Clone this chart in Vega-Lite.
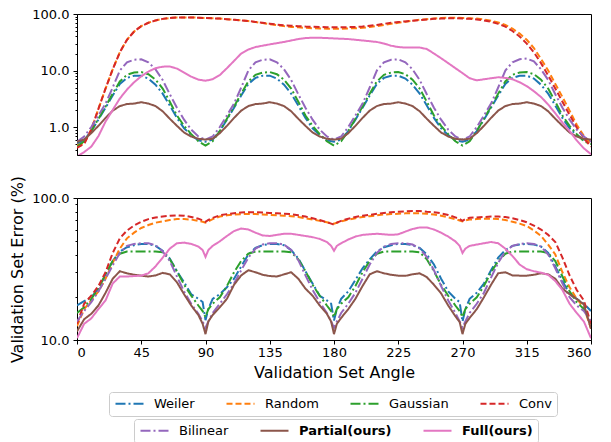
{
"$schema": "https://vega.github.io/schema/vega-lite/v6.json",
"padding": {"left": 9, "top": 7, "right": 5, "bottom": 0},
"config": {
 "font": "DejaVu Sans",
 "view": {"stroke": "#000", "strokeWidth": 1},
 "axis": {"labelFont": "DejaVu Sans", "titleFont": "DejaVu Sans", "labelFontSize": 13, "titleFontSize": 16, "titleFontWeight": "normal", "labelColor": "#000", "titleColor": "#000", "tickColor": "#000", "domainColor": "#000", "grid": false, "tickSize": 4},
 "legend": {"labelFont": "DejaVu Sans", "labelFontSize": 13, "labelColor": "#000", "symbolStrokeWidth": 2, "columnPadding": 27, "padding": 5, "strokeColor": "#cccccc", "fillColor": "#ffffff", "cornerRadius": 3}
},
"datasets": {
"top": [
{"a":0,"Weiler":0.5,"Random":0.48,"Gaussian":0.45,"Conv":0.43,"Bilinear":0.55,"Partial(ours)":0.55,"Full(ours)":0.3},
{"a":5,"Weiler":0.6,"Random":0.52,"Gaussian":0.56,"Conv":0.5,"Bilinear":0.68,"Partial(ours)":0.6,"Full(ours)":0.36},
{"a":10,"Weiler":0.85,"Random":0.9,"Gaussian":0.85,"Conv":0.9,"Bilinear":1.0,"Partial(ours)":0.78,"Full(ours)":0.45},
{"a":15,"Weiler":1.35,"Random":2.1,"Gaussian":1.4,"Conv":2.1,"Bilinear":1.6,"Partial(ours)":1.05,"Full(ours)":0.69},
{"a":20,"Weiler":2.2,"Random":4.8,"Gaussian":2.3,"Conv":4.8,"Bilinear":2.6,"Partial(ours)":1.45,"Full(ours)":1.25},
{"a":25,"Weiler":3.6,"Random":10.5,"Gaussian":3.9,"Conv":10.5,"Bilinear":5.0,"Partial(ours)":1.95,"Full(ours)":2.0},
{"a":30,"Weiler":5.8,"Random":21,"Gaussian":6.4,"Conv":21,"Bilinear":10,"Partial(ours)":2.35,"Full(ours)":3.2},
{"a":35,"Weiler":7.4,"Random":35,"Gaussian":8.4,"Conv":35,"Bilinear":14,"Partial(ours)":2.55,"Full(ours)":4.6},
{"a":40,"Weiler":8.1,"Random":49,"Gaussian":9.2,"Conv":49,"Bilinear":15.5,"Partial(ours)":2.6,"Full(ours)":6.2},
{"a":45,"Weiler":8.1,"Random":61,"Gaussian":9.4,"Conv":61,"Bilinear":15.8,"Partial(ours)":2.75,"Full(ours)":7.9},
{"a":50,"Weiler":7.2,"Random":70,"Gaussian":8.6,"Conv":70,"Bilinear":14,"Partial(ours)":2.6,"Full(ours)":9.6},
{"a":55,"Weiler":5.6,"Random":77,"Gaussian":6.9,"Conv":77,"Bilinear":10.5,"Partial(ours)":2.35,"Full(ours)":11.0},
{"a":60,"Weiler":3.9,"Random":82,"Gaussian":4.8,"Conv":82,"Bilinear":6.8,"Partial(ours)":1.9,"Full(ours)":11.7},
{"a":65,"Weiler":2.4,"Random":85,"Gaussian":2.8,"Conv":85,"Bilinear":3.8,"Partial(ours)":1.4,"Full(ours)":11.8},
{"a":70,"Weiler":1.45,"Random":87,"Gaussian":1.6,"Conv":87,"Bilinear":2.2,"Partial(ours)":1.05,"Full(ours)":10.8},
{"a":75,"Weiler":0.95,"Random":87,"Gaussian":1.05,"Conv":87,"Bilinear":1.35,"Partial(ours)":0.8,"Full(ours)":9.2},
{"a":80,"Weiler":0.72,"Random":87,"Gaussian":0.75,"Conv":87,"Bilinear":0.9,"Partial(ours)":0.68,"Full(ours)":7.8},
{"a":85,"Weiler":0.58,"Random":86,"Gaussian":0.56,"Conv":86,"Bilinear":0.68,"Partial(ours)":0.62,"Full(ours)":6.9},
{"a":90,"Weiler":0.55,"Random":85,"Gaussian":0.47,"Conv":85,"Bilinear":0.6,"Partial(ours)":0.6,"Full(ours)":6.6},
{"a":95,"Weiler":0.6,"Random":84,"Gaussian":0.56,"Conv":84,"Bilinear":0.68,"Partial(ours)":0.62,"Full(ours)":7.0},
{"a":100,"Weiler":0.85,"Random":83,"Gaussian":0.85,"Conv":83,"Bilinear":1.0,"Partial(ours)":0.78,"Full(ours)":8.3},
{"a":105,"Weiler":1.35,"Random":81,"Gaussian":1.4,"Conv":81,"Bilinear":1.6,"Partial(ours)":1.05,"Full(ours)":11.0},
{"a":110,"Weiler":2.2,"Random":79,"Gaussian":2.3,"Conv":79,"Bilinear":2.6,"Partial(ours)":1.45,"Full(ours)":14.8},
{"a":115,"Weiler":3.6,"Random":77,"Gaussian":3.9,"Conv":77,"Bilinear":5.0,"Partial(ours)":1.95,"Full(ours)":20},
{"a":120,"Weiler":5.8,"Random":75,"Gaussian":6.4,"Conv":75,"Bilinear":10,"Partial(ours)":2.35,"Full(ours)":23.5},
{"a":125,"Weiler":7.4,"Random":72,"Gaussian":8.4,"Conv":72.5,"Bilinear":14,"Partial(ours)":2.55,"Full(ours)":26},
{"a":130,"Weiler":8.1,"Random":69,"Gaussian":9.2,"Conv":70,"Bilinear":15.5,"Partial(ours)":2.6,"Full(ours)":27.5},
{"a":135,"Weiler":8.1,"Random":66,"Gaussian":9.4,"Conv":67.5,"Bilinear":15.8,"Partial(ours)":2.75,"Full(ours)":29},
{"a":140,"Weiler":7.2,"Random":63.5,"Gaussian":8.6,"Conv":65,"Bilinear":14,"Partial(ours)":2.6,"Full(ours)":30.5},
{"a":145,"Weiler":5.6,"Random":61,"Gaussian":6.9,"Conv":63,"Bilinear":10.5,"Partial(ours)":2.35,"Full(ours)":32},
{"a":150,"Weiler":3.9,"Random":59,"Gaussian":4.8,"Conv":62,"Bilinear":6.8,"Partial(ours)":1.9,"Full(ours)":34},
{"a":155,"Weiler":2.4,"Random":58,"Gaussian":2.8,"Conv":61,"Bilinear":3.8,"Partial(ours)":1.4,"Full(ours)":36},
{"a":160,"Weiler":1.45,"Random":57,"Gaussian":1.6,"Conv":60,"Bilinear":2.2,"Partial(ours)":1.05,"Full(ours)":37.5},
{"a":165,"Weiler":0.95,"Random":56,"Gaussian":1.05,"Conv":59.5,"Bilinear":1.35,"Partial(ours)":0.8,"Full(ours)":38},
{"a":170,"Weiler":0.72,"Random":55.5,"Gaussian":0.75,"Conv":59,"Bilinear":0.9,"Partial(ours)":0.68,"Full(ours)":38},
{"a":175,"Weiler":0.58,"Random":55,"Gaussian":0.56,"Conv":58.5,"Bilinear":0.68,"Partial(ours)":0.62,"Full(ours)":37.5},
{"a":180,"Weiler":0.55,"Random":55,"Gaussian":0.47,"Conv":58,"Bilinear":0.6,"Partial(ours)":0.6,"Full(ours)":37},
{"a":185,"Weiler":0.6,"Random":55,"Gaussian":0.56,"Conv":58,"Bilinear":0.68,"Partial(ours)":0.62,"Full(ours)":36.5},
{"a":190,"Weiler":0.85,"Random":55.5,"Gaussian":0.85,"Conv":58.5,"Bilinear":1.0,"Partial(ours)":0.78,"Full(ours)":36},
{"a":195,"Weiler":1.35,"Random":56,"Gaussian":1.4,"Conv":59,"Bilinear":1.6,"Partial(ours)":1.05,"Full(ours)":35},
{"a":200,"Weiler":2.2,"Random":57,"Gaussian":2.3,"Conv":60,"Bilinear":2.6,"Partial(ours)":1.45,"Full(ours)":34},
{"a":205,"Weiler":3.6,"Random":59,"Gaussian":3.9,"Conv":62,"Bilinear":5.0,"Partial(ours)":1.95,"Full(ours)":33},
{"a":210,"Weiler":5.8,"Random":61,"Gaussian":6.4,"Conv":64,"Bilinear":10,"Partial(ours)":2.35,"Full(ours)":32},
{"a":215,"Weiler":7.4,"Random":64,"Gaussian":8.4,"Conv":67,"Bilinear":14,"Partial(ours)":2.55,"Full(ours)":30},
{"a":220,"Weiler":8.1,"Random":67,"Gaussian":9.2,"Conv":70,"Bilinear":15.5,"Partial(ours)":2.6,"Full(ours)":27.5},
{"a":225,"Weiler":8.1,"Random":70,"Gaussian":9.4,"Conv":72,"Bilinear":15.8,"Partial(ours)":2.75,"Full(ours)":26},
{"a":230,"Weiler":7.2,"Random":73,"Gaussian":8.6,"Conv":74,"Bilinear":14,"Partial(ours)":2.6,"Full(ours)":25.5},
{"a":235,"Weiler":5.6,"Random":76,"Gaussian":6.9,"Conv":76,"Bilinear":10.5,"Partial(ours)":2.35,"Full(ours)":25.5},
{"a":240,"Weiler":3.9,"Random":79,"Gaussian":4.8,"Conv":78,"Bilinear":6.8,"Partial(ours)":1.9,"Full(ours)":25.5},
{"a":245,"Weiler":2.4,"Random":81,"Gaussian":2.8,"Conv":80,"Bilinear":3.8,"Partial(ours)":1.4,"Full(ours)":24},
{"a":250,"Weiler":1.45,"Random":83,"Gaussian":1.6,"Conv":82,"Bilinear":2.2,"Partial(ours)":1.05,"Full(ours)":20},
{"a":255,"Weiler":0.95,"Random":85,"Gaussian":1.05,"Conv":83,"Bilinear":1.35,"Partial(ours)":0.8,"Full(ours)":16.5},
{"a":260,"Weiler":0.72,"Random":86,"Gaussian":0.75,"Conv":84,"Bilinear":0.9,"Partial(ours)":0.68,"Full(ours)":13.5},
{"a":265,"Weiler":0.58,"Random":86,"Gaussian":0.56,"Conv":84,"Bilinear":0.68,"Partial(ours)":0.62,"Full(ours)":11},
{"a":270,"Weiler":0.55,"Random":85,"Gaussian":0.47,"Conv":83,"Bilinear":0.6,"Partial(ours)":0.6,"Full(ours)":9},
{"a":275,"Weiler":0.6,"Random":84,"Gaussian":0.56,"Conv":82,"Bilinear":0.68,"Partial(ours)":0.62,"Full(ours)":7.3},
{"a":280,"Weiler":0.85,"Random":83,"Gaussian":0.85,"Conv":80,"Bilinear":1.0,"Partial(ours)":0.78,"Full(ours)":6.7},
{"a":285,"Weiler":1.35,"Random":80,"Gaussian":1.4,"Conv":77,"Bilinear":1.6,"Partial(ours)":1.05,"Full(ours)":7.0},
{"a":290,"Weiler":2.2,"Random":76,"Gaussian":2.3,"Conv":73,"Bilinear":2.6,"Partial(ours)":1.45,"Full(ours)":7.3},
{"a":295,"Weiler":3.6,"Random":71,"Gaussian":3.9,"Conv":67,"Bilinear":5.0,"Partial(ours)":1.95,"Full(ours)":7.6},
{"a":300,"Weiler":5.8,"Random":64,"Gaussian":6.4,"Conv":60,"Bilinear":10,"Partial(ours)":2.35,"Full(ours)":7.4},
{"a":305,"Weiler":7.4,"Random":55,"Gaussian":8.4,"Conv":50,"Bilinear":14,"Partial(ours)":2.55,"Full(ours)":7.0},
{"a":310,"Weiler":8.1,"Random":45,"Gaussian":9.2,"Conv":40,"Bilinear":15.8,"Partial(ours)":2.6,"Full(ours)":6.2},
{"a":315,"Weiler":8.1,"Random":35,"Gaussian":9.4,"Conv":30,"Bilinear":16.3,"Partial(ours)":2.75,"Full(ours)":5.3},
{"a":320,"Weiler":7.2,"Random":25,"Gaussian":8.6,"Conv":21,"Bilinear":14.5,"Partial(ours)":2.6,"Full(ours)":4.3},
{"a":325,"Weiler":5.6,"Random":16,"Gaussian":6.9,"Conv":13.5,"Bilinear":10.5,"Partial(ours)":2.35,"Full(ours)":3.4},
{"a":330,"Weiler":3.9,"Random":10,"Gaussian":4.8,"Conv":8.2,"Bilinear":6.8,"Partial(ours)":1.9,"Full(ours)":2.5},
{"a":335,"Weiler":2.4,"Random":5.8,"Gaussian":2.8,"Conv":4.8,"Bilinear":3.8,"Partial(ours)":1.4,"Full(ours)":1.75},
{"a":340,"Weiler":1.45,"Random":3.4,"Gaussian":1.6,"Conv":2.8,"Bilinear":2.2,"Partial(ours)":1.05,"Full(ours)":1.2},
{"a":345,"Weiler":0.95,"Random":1.95,"Gaussian":1.05,"Conv":1.65,"Bilinear":1.35,"Partial(ours)":0.8,"Full(ours)":0.85},
{"a":350,"Weiler":0.72,"Random":1.1,"Gaussian":0.75,"Conv":0.98,"Bilinear":0.9,"Partial(ours)":0.68,"Full(ours)":0.58},
{"a":355,"Weiler":0.6,"Random":0.7,"Gaussian":0.56,"Conv":0.63,"Bilinear":0.68,"Partial(ours)":0.62,"Full(ours)":0.42},
{"a":360,"Weiler":0.58,"Random":0.5,"Gaussian":0.5,"Conv":0.45,"Bilinear":0.55,"Partial(ours)":0.6,"Full(ours)":0.33}
],
"bottom": [
{"a":0,"Weiler":17.5,"Random":12.5,"Gaussian":15.5,"Conv":13,"Bilinear":13.5,"Partial(ours)":11.5,"Full(ours)":10.3},
{"a":5,"Weiler":18.8,"Random":16.5,"Gaussian":17,"Conv":18,"Bilinear":16,"Partial(ours)":14,"Full(ours)":13},
{"a":10,"Weiler":20,"Random":19,"Gaussian":19.5,"Conv":20.5,"Bilinear":18.5,"Partial(ours)":15.3,"Full(ours)":14.2},
{"a":15,"Weiler":23,"Random":22,"Gaussian":23,"Conv":24,"Bilinear":22,"Partial(ours)":17.5,"Full(ours)":16.5},
{"a":20,"Weiler":29,"Random":27,"Gaussian":29,"Conv":30,"Bilinear":27,"Partial(ours)":21.5,"Full(ours)":19},
{"a":25,"Weiler":36,"Random":35,"Gaussian":36,"Conv":41,"Bilinear":33.5,"Partial(ours)":27,"Full(ours)":25},
{"a":30,"Weiler":42,"Random":44,"Gaussian":40.5,"Conv":52,"Bilinear":41,"Partial(ours)":30.5,"Full(ours)":28},
{"a":35,"Weiler":45,"Random":52,"Gaussian":42,"Conv":59,"Bilinear":46,"Partial(ours)":29.5,"Full(ours)":28},
{"a":40,"Weiler":46.5,"Random":57,"Gaussian":42,"Conv":64,"Bilinear":47.5,"Partial(ours)":28.8,"Full(ours)":28.2},
{"a":45,"Weiler":47.5,"Random":61.5,"Gaussian":42,"Conv":68,"Bilinear":48,"Partial(ours)":28.4,"Full(ours)":28.4},
{"a":50,"Weiler":47.5,"Random":64.5,"Gaussian":42,"Conv":71,"Bilinear":48,"Partial(ours)":28,"Full(ours)":29.5},
{"a":55,"Weiler":46,"Random":67,"Gaussian":42,"Conv":73,"Bilinear":46.5,"Partial(ours)":28.5,"Full(ours)":33},
{"a":60,"Weiler":42.5,"Random":68.5,"Gaussian":41.5,"Conv":74,"Bilinear":42,"Partial(ours)":29.7,"Full(ours)":38},
{"a":65,"Weiler":37.5,"Random":70,"Gaussian":37,"Conv":75,"Bilinear":36,"Partial(ours)":29,"Full(ours)":44},
{"a":70,"Weiler":30.5,"Random":71,"Gaussian":30.5,"Conv":75.5,"Bilinear":28,"Partial(ours)":25.5,"Full(ours)":48},
{"a":75,"Weiler":25.5,"Random":71,"Gaussian":24.5,"Conv":75,"Bilinear":22,"Partial(ours)":21,"Full(ours)":48.5},
{"a":80,"Weiler":21,"Random":70.5,"Gaussian":20.5,"Conv":73.5,"Bilinear":18,"Partial(ours)":17.5,"Full(ours)":47.5},
{"a":85,"Weiler":19.5,"Random":69,"Gaussian":17.5,"Conv":71.5,"Bilinear":15.3,"Partial(ours)":15,"Full(ours)":45.5},
{"a":88,"Weiler":18.5,"Random":68,"Gaussian":16,"Conv":69.5,"Bilinear":13.5,"Partial(ours)":13,"Full(ours)":43},
{"a":90,"Weiler":13.8,"Random":67,"Gaussian":14.5,"Conv":68,"Bilinear":12.2,"Partial(ours)":11,"Full(ours)":38.5},
{"a":92,"Weiler":16.5,"Random":68.5,"Gaussian":16.5,"Conv":70,"Bilinear":13.5,"Partial(ours)":13.5,"Full(ours)":43},
{"a":95,"Weiler":19.5,"Random":71,"Gaussian":18,"Conv":72.5,"Bilinear":15.5,"Partial(ours)":15,"Full(ours)":46},
{"a":100,"Weiler":21,"Random":74,"Gaussian":20,"Conv":75.5,"Bilinear":18,"Partial(ours)":17,"Full(ours)":49.5},
{"a":105,"Weiler":23.5,"Random":75.5,"Gaussian":24,"Conv":77,"Bilinear":21,"Partial(ours)":19.5,"Full(ours)":54},
{"a":110,"Weiler":27,"Random":76.5,"Gaussian":30,"Conv":78,"Bilinear":25,"Partial(ours)":24.5,"Full(ours)":58.5},
{"a":115,"Weiler":33,"Random":77,"Gaussian":36,"Conv":79,"Bilinear":31,"Partial(ours)":28.5,"Full(ours)":61},
{"a":120,"Weiler":40,"Random":77,"Gaussian":40.5,"Conv":79.5,"Bilinear":38,"Partial(ours)":31,"Full(ours)":60},
{"a":125,"Weiler":44.5,"Random":77,"Gaussian":42,"Conv":79.5,"Bilinear":44,"Partial(ours)":30,"Full(ours)":57},
{"a":130,"Weiler":46.5,"Random":76.5,"Gaussian":42,"Conv":79,"Bilinear":47,"Partial(ours)":28.8,"Full(ours)":54.5},
{"a":135,"Weiler":47.5,"Random":76,"Gaussian":42,"Conv":78.5,"Bilinear":48,"Partial(ours)":28.2,"Full(ours)":54},
{"a":140,"Weiler":47.5,"Random":75.5,"Gaussian":42,"Conv":78,"Bilinear":48,"Partial(ours)":28,"Full(ours)":55},
{"a":145,"Weiler":46.5,"Random":75,"Gaussian":42,"Conv":77.5,"Bilinear":47,"Partial(ours)":29,"Full(ours)":56},
{"a":150,"Weiler":43,"Random":74.5,"Gaussian":41.5,"Conv":77,"Bilinear":43,"Partial(ours)":30,"Full(ours)":56},
{"a":155,"Weiler":37.5,"Random":73.5,"Gaussian":37,"Conv":75.5,"Bilinear":36.5,"Partial(ours)":27,"Full(ours)":55},
{"a":160,"Weiler":30.5,"Random":72,"Gaussian":30.5,"Conv":74,"Bilinear":28.5,"Partial(ours)":23,"Full(ours)":54},
{"a":165,"Weiler":25,"Random":70.5,"Gaussian":24.5,"Conv":72,"Bilinear":22.5,"Partial(ours)":20.5,"Full(ours)":53},
{"a":170,"Weiler":20.5,"Random":69,"Gaussian":20.5,"Conv":70,"Bilinear":18.5,"Partial(ours)":17.5,"Full(ours)":51.5},
{"a":175,"Weiler":19,"Random":67.5,"Gaussian":17.5,"Conv":67.5,"Bilinear":15.5,"Partial(ours)":15.3,"Full(ours)":49},
{"a":178,"Weiler":18,"Random":66.5,"Gaussian":16,"Conv":66,"Bilinear":13.5,"Partial(ours)":13.5,"Full(ours)":46},
{"a":180,"Weiler":13.7,"Random":66,"Gaussian":14.5,"Conv":65,"Bilinear":12.2,"Partial(ours)":11,"Full(ours)":42.5},
{"a":182,"Weiler":16.5,"Random":67,"Gaussian":16.5,"Conv":67,"Bilinear":13.5,"Partial(ours)":13,"Full(ours)":46},
{"a":185,"Weiler":19.5,"Random":68.5,"Gaussian":18,"Conv":69,"Bilinear":15.5,"Partial(ours)":14.3,"Full(ours)":48},
{"a":190,"Weiler":22,"Random":70.5,"Gaussian":20,"Conv":71.5,"Bilinear":18,"Partial(ours)":16.5,"Full(ours)":51},
{"a":195,"Weiler":26.5,"Random":72,"Gaussian":24,"Conv":73.5,"Bilinear":21.5,"Partial(ours)":19.5,"Full(ours)":53.5},
{"a":200,"Weiler":32,"Random":73.5,"Gaussian":30,"Conv":75,"Bilinear":27,"Partial(ours)":24,"Full(ours)":55},
{"a":205,"Weiler":37,"Random":74.5,"Gaussian":36,"Conv":76,"Bilinear":34,"Partial(ours)":29,"Full(ours)":55.5},
{"a":210,"Weiler":42,"Random":75.5,"Gaussian":40.5,"Conv":77.5,"Bilinear":41,"Partial(ours)":30.5,"Full(ours)":56},
{"a":215,"Weiler":45,"Random":76.5,"Gaussian":42,"Conv":78.5,"Bilinear":45.5,"Partial(ours)":29.5,"Full(ours)":55.5},
{"a":220,"Weiler":46.5,"Random":77,"Gaussian":42,"Conv":79.5,"Bilinear":47.5,"Partial(ours)":28.8,"Full(ours)":55},
{"a":225,"Weiler":47.5,"Random":77.5,"Gaussian":42,"Conv":80,"Bilinear":48,"Partial(ours)":28.4,"Full(ours)":55.5},
{"a":230,"Weiler":47.5,"Random":78,"Gaussian":42,"Conv":80.5,"Bilinear":48,"Partial(ours)":28.3,"Full(ours)":58},
{"a":235,"Weiler":46.5,"Random":78,"Gaussian":42,"Conv":81,"Bilinear":47,"Partial(ours)":29,"Full(ours)":60.5},
{"a":240,"Weiler":44.5,"Random":78,"Gaussian":41.5,"Conv":81,"Bilinear":44,"Partial(ours)":29.5,"Full(ours)":62},
{"a":245,"Weiler":40,"Random":77.5,"Gaussian":37,"Conv":80,"Bilinear":38.5,"Partial(ours)":27.7,"Full(ours)":62},
{"a":250,"Weiler":34,"Random":76.5,"Gaussian":30.5,"Conv":79.5,"Bilinear":31,"Partial(ours)":24.5,"Full(ours)":60},
{"a":255,"Weiler":27,"Random":75,"Gaussian":24.5,"Conv":78,"Bilinear":24,"Partial(ours)":21.3,"Full(ours)":57},
{"a":260,"Weiler":22,"Random":73,"Gaussian":20.5,"Conv":76,"Bilinear":19,"Partial(ours)":17.5,"Full(ours)":53.5},
{"a":265,"Weiler":19.5,"Random":71,"Gaussian":17.5,"Conv":73,"Bilinear":15.5,"Partial(ours)":14.7,"Full(ours)":49.5},
{"a":268,"Weiler":18.5,"Random":69.5,"Gaussian":16,"Conv":71,"Bilinear":13.5,"Partial(ours)":13.4,"Full(ours)":46},
{"a":270,"Weiler":13.5,"Random":68.5,"Gaussian":14.5,"Conv":69,"Bilinear":12.2,"Partial(ours)":11,"Full(ours)":41},
{"a":272,"Weiler":16.5,"Random":69.5,"Gaussian":16.5,"Conv":71,"Bilinear":13.5,"Partial(ours)":13,"Full(ours)":44},
{"a":275,"Weiler":19.5,"Random":70.5,"Gaussian":18,"Conv":72.5,"Bilinear":15.5,"Partial(ours)":14.3,"Full(ours)":46},
{"a":280,"Weiler":21.5,"Random":71,"Gaussian":20,"Conv":73,"Bilinear":18,"Partial(ours)":16.5,"Full(ours)":47},
{"a":285,"Weiler":25,"Random":71.5,"Gaussian":24,"Conv":73.5,"Bilinear":21.5,"Partial(ours)":20,"Full(ours)":48},
{"a":290,"Weiler":31,"Random":71.5,"Gaussian":30,"Conv":74,"Bilinear":27.5,"Partial(ours)":24.5,"Full(ours)":49},
{"a":295,"Weiler":38,"Random":71,"Gaussian":36,"Conv":74,"Bilinear":35,"Partial(ours)":29.5,"Full(ours)":48},
{"a":300,"Weiler":43,"Random":70,"Gaussian":40.5,"Conv":73.5,"Bilinear":42,"Partial(ours)":30,"Full(ours)":44},
{"a":305,"Weiler":46,"Random":68,"Gaussian":42,"Conv":72,"Bilinear":46,"Partial(ours)":28.5,"Full(ours)":39},
{"a":310,"Weiler":47,"Random":66,"Gaussian":42,"Conv":70,"Bilinear":47.5,"Partial(ours)":28.4,"Full(ours)":34},
{"a":315,"Weiler":47.5,"Random":63.5,"Gaussian":42,"Conv":67.5,"Bilinear":48,"Partial(ours)":28.4,"Full(ours)":31.5},
{"a":320,"Weiler":47,"Random":59,"Gaussian":42,"Conv":64,"Bilinear":47.5,"Partial(ours)":28.8,"Full(ours)":30.5},
{"a":325,"Weiler":45.5,"Random":54,"Gaussian":42,"Conv":60,"Bilinear":45.5,"Partial(ours)":29.5,"Full(ours)":29.8},
{"a":330,"Weiler":41,"Random":47,"Gaussian":41,"Conv":55,"Bilinear":40,"Partial(ours)":29,"Full(ours)":28.8},
{"a":335,"Weiler":33,"Random":40,"Gaussian":36,"Conv":49,"Bilinear":32,"Partial(ours)":27,"Full(ours)":26},
{"a":340,"Weiler":26,"Random":30,"Gaussian":28,"Conv":38,"Bilinear":25,"Partial(ours)":23,"Full(ours)":22.5},
{"a":345,"Weiler":21,"Random":23.5,"Gaussian":22,"Conv":28.5,"Bilinear":20,"Partial(ours)":21,"Full(ours)":18},
{"a":350,"Weiler":19.5,"Random":19.5,"Gaussian":18.5,"Conv":22.5,"Bilinear":17.5,"Partial(ours)":19.5,"Full(ours)":15.5},
{"a":355,"Weiler":18,"Random":17,"Gaussian":16.5,"Conv":19,"Bilinear":16,"Partial(ours)":17.8,"Full(ours)":13.5},
{"a":360,"Weiler":16,"Random":12,"Gaussian":13,"Conv":13,"Bilinear":13.5,"Partial(ours)":12,"Full(ours)":10.3}
]
},
"spacing": 43,
"bounds": "flush",
"resolve": {"scale": {"y": "independent"}},
"vconcat": [
{
 "width": 514, "height": 141,
 "data": {"name": "top"},
 "encoding": {
  "x": {"field": "a", "type": "quantitative", "scale": {"domain": [0, 360], "nice": false}, "axis": null},
  "y": {"field": "v", "type": "quantitative", "scale": {"type": "log", "domain": [0.32, 100], "nice": false},
   "axis": {"title": null, "values": [0.4,0.5,0.6,0.7,0.8,0.9,1,2,3,4,5,6,7,8,9,10,20,30,40,50,60,70,80,90,100],
    "labelExpr": "datum.value == 1 || datum.value == 10 || datum.value == 100 ? format(datum.value, '.1f') : ''",
    "labelOverlap": false, "labelBound": false, "labelPadding": 4,
    "tickSize": {"condition": {"test": "datum.value == 1 || datum.value == 10 || datum.value == 100", "value": 4}, "value": 2}}}
 },
 "layer": [
  {"transform": [{"fold": ["Weiler", "Random", "Gaussian", "Conv"], "as": ["series", "v"]}],
   "mark": {"type": "line", "strokeWidth": 2, "clip": true},
   "encoding": {
    "stroke": {"field": "series", "type": "nominal", "scale": {"domain": ["Weiler", "Random", "Gaussian", "Conv"], "range": ["#1f77b4", "#ff7f0e", "#2ca02c", "#d62728"]},
     "legend": {"title": null, "orient": "none", "legendX": 32, "legendY": 378, "direction": "horizontal", "columns": 4, "symbolType": "M-1,0H4.6", "symbolSize": 100, "labelOffset": 27,
      "encode": {"symbols": {"update": {"strokeDash": {"signal": "datum.value == 'Weiler' || datum.value == 'Gaussian' ? [10,3,2,3] : [6,3]"}}}}}},
    "strokeDash": {"field": "series", "type": "nominal", "scale": {"domain": ["Weiler", "Random", "Gaussian", "Conv", "Bilinear", "Partial(ours)", "Full(ours)"], "range": [[10,3,2,3],[6,3],[10,3,2,3],[6,3],[10,3,2,3],[1,0],[1,0]]}, "legend": null}
   }},
  {"transform": [{"fold": ["Bilinear", "Partial(ours)", "Full(ours)"], "as": ["series", "v"]}],
   "mark": {"type": "line", "strokeWidth": 2, "clip": true},
   "encoding": {
    "color": {"field": "series", "type": "nominal", "scale": {"domain": ["Bilinear", "Partial(ours)", "Full(ours)"], "range": ["#9467bd", "#8c564b", "#e377c2"]},
     "legend": {"title": null, "orient": "none", "legendX": 57, "legendY": 405, "direction": "horizontal", "columns": 3, "symbolType": "M-1,0H4.6", "symbolSize": 100, "labelOffset": 27,
      "encode": {"symbols": {"update": {"strokeDash": {"signal": "datum.value == 'Bilinear' ? [10,3,2,3] : [1,0]"}}}, "labels": {"update": {"fontWeight": {"signal": "datum.value == 'Bilinear' ? 'normal' : 'bold'"}}}}}},
    "strokeDash": {"field": "series", "type": "nominal", "scale": {"domain": ["Weiler", "Random", "Gaussian", "Conv", "Bilinear", "Partial(ours)", "Full(ours)"], "range": [[10,3,2,3],[6,3],[10,3,2,3],[6,3],[10,3,2,3],[1,0],[1,0]]}, "legend": null}
   }}
 ]
},
{
 "width": 514, "height": 142,
 "data": {"name": "bottom"},
 "encoding": {
  "x": {"field": "a", "type": "quantitative", "scale": {"domain": [0, 360], "nice": false},
   "axis": {"title": "Validation Set Angle", "values": [0,45,90,135,180,225,270,315,360], "labelPadding": 2, "titlePadding": 5}},
  "y": {"field": "v", "type": "quantitative", "scale": {"type": "log", "domain": [10, 100], "nice": false},
   "axis": {"title": "Validation Set Error (%)", "titlePadding": 6, "values": [10,20,30,40,50,60,70,80,90,100],
    "labelExpr": "datum.value == 10 || datum.value == 100 ? format(datum.value, '.1f') : ''",
    "labelOverlap": false, "labelBound": false, "labelPadding": 4,
    "tickSize": {"condition": {"test": "datum.value == 10 || datum.value == 100", "value": 4}, "value": 2}}}
 },
 "layer": [
  {"transform": [{"fold": ["Weiler", "Random", "Gaussian", "Conv"], "as": ["series", "v"]}],
   "mark": {"type": "line", "strokeWidth": 2, "clip": true},
   "encoding": {
    "stroke": {"field": "series", "type": "nominal", "scale": {"domain": ["Weiler", "Random", "Gaussian", "Conv"], "range": ["#1f77b4", "#ff7f0e", "#2ca02c", "#d62728"]},
     "legend": {"title": null, "orient": "none", "legendX": 32, "legendY": 378, "direction": "horizontal", "columns": 4, "symbolType": "M-1,0H4.6", "symbolSize": 100, "labelOffset": 27,
      "encode": {"symbols": {"update": {"strokeDash": {"signal": "datum.value == 'Weiler' || datum.value == 'Gaussian' ? [10,3,2,3] : [6,3]"}}}}}},
    "strokeDash": {"field": "series", "type": "nominal", "scale": {"domain": ["Weiler", "Random", "Gaussian", "Conv", "Bilinear", "Partial(ours)", "Full(ours)"], "range": [[10,3,2,3],[6,3],[10,3,2,3],[6,3],[10,3,2,3],[1,0],[1,0]]}, "legend": null}
   }},
  {"transform": [{"fold": ["Bilinear", "Partial(ours)", "Full(ours)"], "as": ["series", "v"]}],
   "mark": {"type": "line", "strokeWidth": 2, "clip": true},
   "encoding": {
    "color": {"field": "series", "type": "nominal", "scale": {"domain": ["Bilinear", "Partial(ours)", "Full(ours)"], "range": ["#9467bd", "#8c564b", "#e377c2"]},
     "legend": {"title": null, "orient": "none", "legendX": 57, "legendY": 405, "direction": "horizontal", "columns": 3, "symbolType": "M-1,0H4.6", "symbolSize": 100, "labelOffset": 27,
      "encode": {"symbols": {"update": {"strokeDash": {"signal": "datum.value == 'Bilinear' ? [10,3,2,3] : [1,0]"}}}, "labels": {"update": {"fontWeight": {"signal": "datum.value == 'Bilinear' ? 'normal' : 'bold'"}}}}}},
    "strokeDash": {"field": "series", "type": "nominal", "scale": {"domain": ["Weiler", "Random", "Gaussian", "Conv", "Bilinear", "Partial(ours)", "Full(ours)"], "range": [[10,3,2,3],[6,3],[10,3,2,3],[6,3],[10,3,2,3],[1,0],[1,0]]}, "legend": null}
   }}
 ]
}
]
}
